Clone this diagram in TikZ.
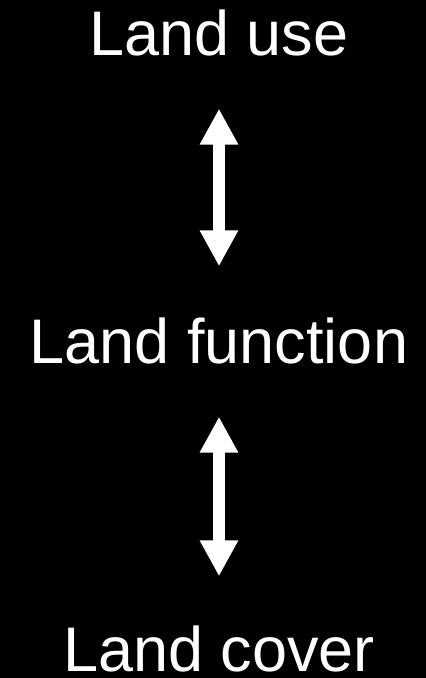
\documentclass[tikz,border=0pt]{standalone}
\usepackage{fontspec}
\setmainfont{Liberation Sans}
\usepackage{tikz}
\usetikzlibrary{arrows.meta,positioning}
\tikzset{
	landtext/.style={
		inner sep=0pt, outer sep=0pt, anchor=base,
		text=white, font=\fontsize{63}{70}\selectfont
	},
	link_arrow/.style={
		white, line width=12pt,
		{Triangle[width=36pt,length=36pt]}-{Triangle[width=36pt,length=36pt]},
		shorten <=52pt, shorten >=52pt
	}
}

\begin{document}
\begin{tikzpicture}[x=1pt,y=1pt]
  \fill[black] (0,0) rectangle (426,678);
  \useasboundingbox (0,0) rectangle (426,678);
  \node[landtext] (use)  at (219,622) {Land use};
  \node[landtext] (func) at (219,314) {Land function};
  \node[landtext] (cover) at (219,6)  {Land cover};
  \draw[link_arrow] (use.south) -- (func.north);
  \draw[link_arrow] (func.south) -- ([yshift=-2pt]cover.north);
\end{tikzpicture}
\end{document}
